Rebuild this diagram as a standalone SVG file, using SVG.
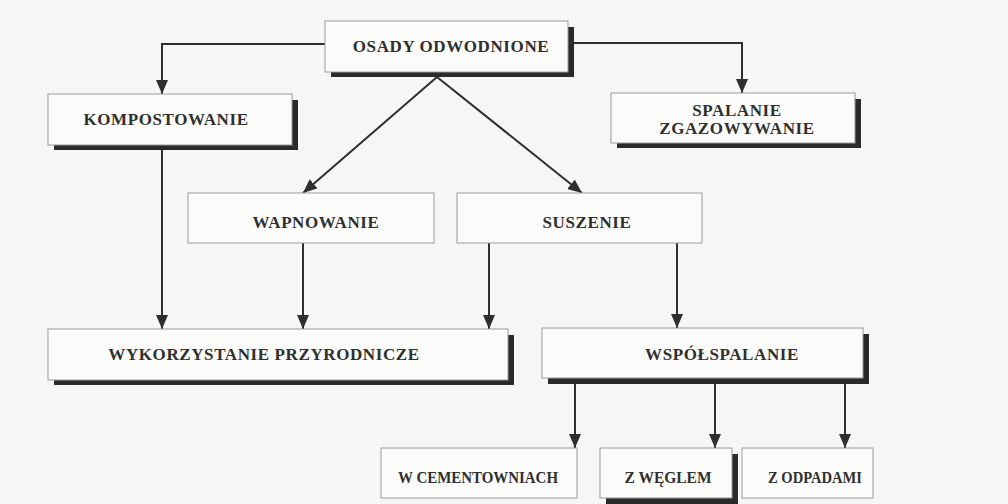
<svg xmlns="http://www.w3.org/2000/svg" width="1008" height="504" viewBox="0 0 1008 504">
<defs>
<marker id="ad" markerUnits="userSpaceOnUse" markerWidth="14" markerHeight="12" viewBox="0 0 14 12" refX="14" refY="6" orient="auto">
<path d="M0,0 L14,6 L0,12 Z" fill="#2e2e2e"/>
</marker>
</defs>
<style>
.box{fill:#fbfbf9;stroke:#9a9a9a;stroke-width:1}
.sh{fill:#2a2a2a}
.t{font-family:"Liberation Serif","Times New Roman",serif;font-weight:bold;font-size:17px;fill:#2f2f2f;text-anchor:middle;letter-spacing:0.6px}
.s{font-size:16px;letter-spacing:0}
.c{fill:none;stroke:#2e2e2e;stroke-width:2}
</style>
<rect width="1008" height="504" fill="#f6f6f4"/>
<g id="connectors">
<path class="c" d="M325,44 H162 V94" marker-end="url(#ad)"/>
<path class="c" d="M574,43 H742 V93" marker-end="url(#ad)"/>
<path class="c" d="M437,77 L303,193" marker-end="url(#ad)"/>
<path class="c" d="M437,77 L582,193" marker-end="url(#ad)"/>
<path class="c" d="M162,150 V329" marker-end="url(#ad)"/>
<path class="c" d="M303,243 V329" marker-end="url(#ad)"/>
<path class="c" d="M489,243 V329" marker-end="url(#ad)"/>
<path class="c" d="M677,243 V328" marker-end="url(#ad)"/>
<path class="c" d="M575,383 V448" marker-end="url(#ad)"/>
<path class="c" d="M715,383 V448" marker-end="url(#ad)"/>
<path class="c" d="M845,383 V448" marker-end="url(#ad)"/>
</g>
<g id="osady">
<rect class="sh" x="331" y="27" width="243" height="50"/>
<rect class="box" x="325" y="21" width="243" height="51"/>
<text class="t" x="451" y="52">OSADY ODWODNIONE</text>
</g>
<g id="kompostowanie">
<rect class="sh" x="54" y="100" width="244" height="50"/>
<rect class="box" x="48" y="94" width="244" height="51"/>
<text class="t" x="166" y="125">KOMPOSTOWANIE</text>
</g>
<g id="spalanie">
<rect class="sh" x="617" y="99" width="244" height="49"/>
<rect class="box" x="611" y="93" width="244" height="50"/>
<text class="t" x="737" y="116">SPALANIE</text>
<text class="t" x="737" y="134">ZGAZOWYWANIE</text>
</g>
<g id="wapnowanie">
<rect class="box" x="188" y="193" width="246" height="50"/>
<text class="t" x="316" y="228">WAPNOWANIE</text>
</g>
<g id="suszenie">
<rect class="box" x="457" y="193" width="245" height="50"/>
<text class="t" x="587" y="228">SUSZENIE</text>
</g>
<g id="wykorzystanie">
<rect class="sh" x="54" y="335" width="460" height="50"/>
<rect class="box" x="48" y="329" width="460" height="51"/>
<text class="t" x="264" y="360">WYKORZYSTANIE PRZYRODNICZE</text>
</g>
<g id="wspolspalanie">
<rect class="sh" x="548" y="334" width="321" height="50"/>
<rect class="box" x="542" y="328" width="321" height="50"/>
<text class="t" x="722" y="360">WSPÓŁSPALANIE</text>
</g>
<g id="cementownie">
<rect class="box" x="381" y="448" width="196" height="50"/>
<text class="t s" x="478" y="483" textLength="160" lengthAdjust="spacingAndGlyphs">W CEMENTOWNIACH</text>
</g>
<g id="weglem">
<rect class="sh" x="606" y="454" width="132" height="50"/>
<rect class="box" x="600" y="448" width="132" height="50"/>
<text class="t s" x="668" y="483" textLength="87" lengthAdjust="spacingAndGlyphs">Z WĘGLEM</text>
</g>
<g id="odpadami">
<rect class="box" x="742" y="448" width="131" height="50"/>
<text class="t s" x="815" y="483" textLength="94" lengthAdjust="spacingAndGlyphs">Z ODPADAMI</text>
</g>
</svg>
